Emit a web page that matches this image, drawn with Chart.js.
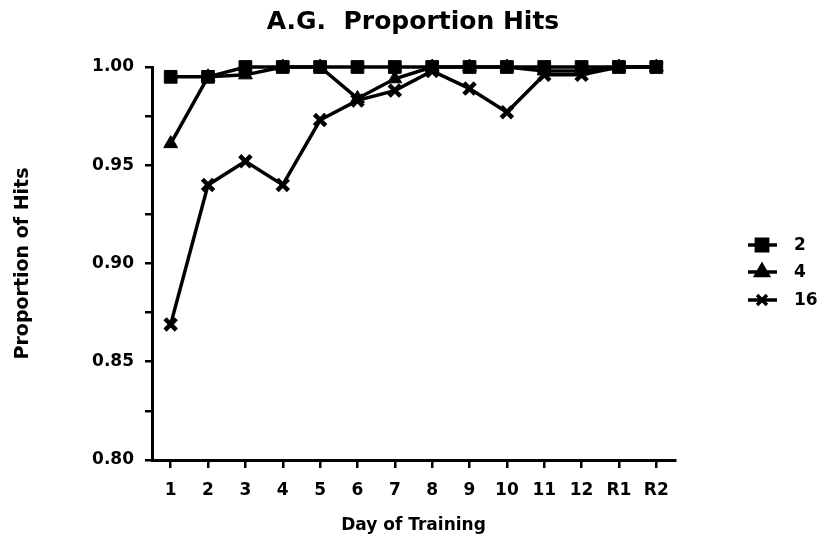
<!DOCTYPE html>
<html>
<head>
<meta charset="utf-8">
<script src="https://cdn.jsdelivr.net/npm/chart.js@4.4.1/dist/chart.umd.min.js"></script>
<style>
  html, body { margin: 0; padding: 0; background: #fff; }
  #wrap { width: 826px; height: 548px; }
</style>
</head>
<body>
<div id="wrap"><canvas id="c"></canvas></div>
<script>
// data
const days = ['1', '2', '3', '4', '5', '6', '7', '8', '9', '10', '11', '12', 'R1', 'R2'];
const set2 = [0.995, 0.995, 1.0, 1.0, 1.0, 1.0, 1.0, 1.0, 1.0, 1.0, 1.0, 1.0, 1.0, 1.0];
const set4 = [0.961, 0.995, 0.996, 1.0, 1.0, 0.984, 0.994, 1.0, 1.0, 1.0, 0.998, 0.998, 1.0, 1.0];
const set16 = [0.869, 0.940, 0.952, 0.940, 0.973, 0.983, 0.988, 0.998, 0.989, 0.977, 0.996, 0.996, 1.0, 1.0];
const seriesNames = ['2', '4', '16'];
const yTicks = [0.80, 0.85, 0.90, 0.95, 1.00];
const chartTitle = 'A.G.  Proportion Hits';

const font = '"DejaVu Sans", Verdana, sans-serif';

function ds(label, data, style, radius, bw) {
    return {
        label: label,
        data: data,
        borderColor: '#000',
        backgroundColor: '#000',
        borderWidth: 3.5,
        pointStyle: style,
        pointRadius: radius,
        pointBorderWidth: bw,
        tension: 0,
        clip: false
    };
}

// title centred on the page + legend with a line segment and marker
const extras = {
    id: 'extras',
    afterDraw(chart) {
        const ctx = chart.ctx;
        ctx.save();
        ctx.fillStyle = '#000';
        ctx.font = 'bold 25px ' + font;
        ctx.textAlign = 'center';
        ctx.textBaseline = 'middle';
        ctx.fillText(chartTitle, 413, 22);
        ctx.restore();

        const ys = [245, 272, 300];
        chart.data.datasets.forEach((d, i) => {
            const y = ys[i];
            ctx.save();
            ctx.strokeStyle = '#000';
            ctx.fillStyle = '#000';
            ctx.lineWidth = 3.5;
            ctx.beginPath();
            ctx.moveTo(748, y);
            ctx.lineTo(777, y);
            ctx.stroke();
            Chart.helpers.drawPoint(ctx, {
                pointStyle: d.pointStyle,
                radius: d.pointRadius - 1,
                borderWidth: d.pointBorderWidth,
                rotation: 0
            }, 762, y);
            ctx.font = 'bold 17px ' + font;
            ctx.textAlign = 'left';
            ctx.textBaseline = 'middle';
            ctx.fillText(d.label, 794, y + 1);
            ctx.restore();
        });
    }
};

new Chart(document.getElementById('c'), {
    type: 'line',
    data: {
        labels: days,
        datasets: [
            ds(seriesNames[0], set2, 'rect', 9, 1),
            ds(seriesNames[1], set4, 'triangle', 8, 1),
            ds(seriesNames[2], set16, 'crossRot', 8, 4.5)
        ]
    },
    options: {
        responsive: true,
        maintainAspectRatio: false,
        animation: false,
        layout: { padding: { left: 0, right: 151, top: 67, bottom: 0 } },
        plugins: {
            legend: { display: false },
            tooltip: { enabled: false },
            title: { display: false }
        },
        scales: {
            x: {
                offset: true,
                afterFit: (s) => { s.height = 88; },
                border: { color: '#000', width: 3 },
                grid: { display: true, drawOnChartArea: false, drawTicks: true, tickLength: 8, color: '#000', lineWidth: 2.5 },
                ticks: { color: '#000', font: { family: font, size: 17, weight: 'bold' }, padding: 12, autoSkip: false, maxRotation: 0 },
                title: {
                    display: true,
                    text: 'Day of Training',
                    color: '#000',
                    font: { family: font, size: 17, weight: 'bold' },
                    padding: { top: 0, bottom: 12 }
                }
            },
            y: {
                min: 0.80,
                max: 1.00,
                afterFit: (s) => { s.width = 152; },
                border: { color: '#000', width: 3 },
                grid: { display: true, drawOnChartArea: false, drawTicks: true, tickLength: 7, color: '#000', lineWidth: 2.5 },
                ticks: {
                    stepSize: 0.025,
                    color: '#000',
                    font: { family: font, size: 17, weight: 'bold' },
                    padding: 11,
                    callback: function (v) {
                        const hit = yTicks.find(t => Math.abs(t - v) < 1e-6);
                        return hit !== undefined ? hit.toFixed(2) : '';
                    }
                },
                title: {
                    display: true,
                    text: 'Proportion of Hits',
                    color: '#000',
                    font: { family: font, size: 19, weight: 'bold' },
                    padding: { top: 12, bottom: 0 }
                }
            }
        }
    },
    plugins: [extras]
});
</script>
</body>
</html>
